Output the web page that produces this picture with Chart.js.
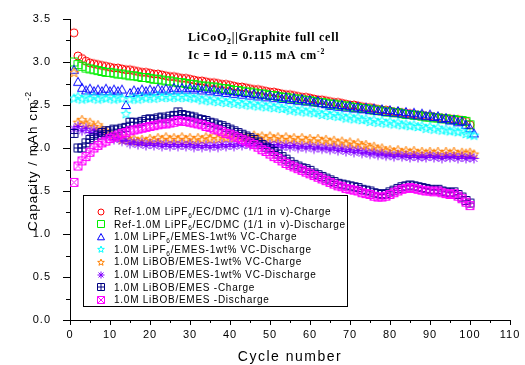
<!DOCTYPE html>
<html>
<head>
<meta charset="utf-8">
<script src="https://cdn.jsdelivr.net/npm/chart.js@4"></script>
<style>
  body { margin: 0; background: #fff; }
  canvas { display: block; }
</style>
</head>
<body>
<canvas id="chart" width="525" height="365"></canvas>
<script>
const cycles = [1,2,3,4,5,6,7,8,9,10,11,12,13,14,15,16,17,18,19,20,21,22,23,24,25,26,27,28,29,30,
  31,32,33,34,35,36,37,38,39,40,41,42,43,44,45,46,47,48,49,50,51,52,53,54,55,56,57,58,59,60,
  61,62,63,64,65,66,67,68,69,70,71,72,73,74,75,76,77,78,79,80,81,82,83,84,85,86,87,88,89,90,
  91,92,93,94,95,96,97,98,99,100,101];

const refCharge = [3.34,3.07,3.04,3.01,2.99,2.98,2.97,2.96,2.95,2.94,
  2.93,2.93,2.92,2.91,2.91,2.90,2.89,2.88,2.88,2.87,
  2.86,2.86,2.85,2.84,2.83,2.83,2.82,2.81,2.81,2.80,
  2.79,2.78,2.78,2.77,2.76,2.76,2.75,2.74,2.74,2.73,
  2.72,2.71,2.71,2.70,2.69,2.68,2.68,2.67,2.66,2.65,
  2.65,2.64,2.63,2.62,2.62,2.61,2.60,2.59,2.59,2.58,
  2.57,2.56,2.56,2.55,2.54,2.53,2.53,2.52,2.51,2.50,
  2.50,2.49,2.48,2.47,2.47,2.46,2.45,2.44,2.44,2.43,
  2.42,2.42,2.41,2.40,2.40,2.39,2.38,2.38,2.37,2.37,
  2.36,2.35,2.35,2.34,2.34,2.33,2.33,2.32,2.31,2.27];

const refDischarge = [3.00,2.97,2.95,2.93,2.92,2.91,2.90,2.89,2.88,2.88,
  2.87,2.86,2.86,2.85,2.84,2.84,2.83,2.82,2.82,2.81,
  2.80,2.80,2.79,2.78,2.78,2.77,2.76,2.76,2.75,2.74,
  2.74,2.73,2.72,2.72,2.71,2.71,2.70,2.69,2.69,2.68,
  2.67,2.67,2.66,2.65,2.65,2.64,2.63,2.63,2.62,2.61,
  2.61,2.60,2.59,2.59,2.58,2.57,2.57,2.56,2.55,2.55,
  2.54,2.53,2.53,2.52,2.51,2.51,2.50,2.49,2.49,2.48,
  2.47,2.47,2.46,2.46,2.45,2.44,2.44,2.43,2.42,2.42,
  2.41,2.41,2.40,2.39,2.39,2.38,2.38,2.37,2.36,2.36,
  2.35,2.35,2.34,2.34,2.33,2.33,2.32,2.32,2.31,2.27];

const vcCharge = [2.91,2.77,2.70,2.67,2.69,2.66,2.68,2.66,2.69,2.66,
  2.68,2.66,2.68,2.50,2.64,2.67,2.65,2.68,2.66,2.68,
  2.66,2.69,2.67,2.69,2.67,2.70,2.68,2.70,2.68,2.70,
  2.68,2.70,2.67,2.69,2.66,2.68,2.65,2.67,2.64,2.66,
  2.63,2.65,2.62,2.64,2.61,2.63,2.60,2.62,2.59,2.61,
  2.58,2.60,2.57,2.59,2.56,2.58,2.55,2.57,2.54,2.56,
  2.53,2.55,2.52,2.51,2.49,2.51,2.48,2.50,2.47,2.49,
  2.46,2.48,2.45,2.47,2.44,2.46,2.43,2.45,2.42,2.44,
  2.41,2.43,2.40,2.42,2.39,2.41,2.38,2.40,2.37,2.39,
  2.36,2.37,2.34,2.35,2.32,2.33,2.30,2.31,2.27,2.23,2.17];

const vcDischarge = [2.58,2.60,2.57,2.59,2.58,2.60,2.57,2.59,2.58,2.60,
  2.57,2.59,2.58,2.40,2.57,2.59,2.57,2.60,2.58,2.60,
  2.58,2.61,2.59,2.61,2.59,2.61,2.59,2.61,2.59,2.60,
  2.58,2.59,2.56,2.58,2.55,2.57,2.54,2.56,2.53,2.55,
  2.52,2.54,2.51,2.53,2.50,2.52,2.49,2.51,2.48,2.50,
  2.47,2.49,2.46,2.47,2.44,2.46,2.43,2.45,2.42,2.44,
  2.41,2.42,2.39,2.41,2.38,2.40,2.37,2.38,2.35,2.37,
  2.34,2.36,2.33,2.34,2.31,2.33,2.30,2.32,2.29,2.31,
  2.28,2.30,2.27,2.28,2.26,2.27,2.25,2.26,2.23,2.25,
  2.22,2.24,2.21,2.22,2.20,2.21,2.19,2.20,2.17,2.16,2.15];

const bobVcCharge = [2.88,2.30,2.33,2.28,2.30,2.25,2.27,2.22,2.20,2.17,
  2.15,2.13,2.10,2.12,2.09,2.11,2.08,2.10,2.08,2.11,
  2.09,2.12,2.10,2.13,2.10,2.12,2.10,2.13,2.10,2.12,
  2.09,2.12,2.10,2.13,2.11,2.14,2.11,2.14,2.12,2.15,
  2.12,2.15,2.12,2.14,2.12,2.15,2.12,2.14,2.11,2.14,
  2.11,2.13,2.10,2.13,2.10,2.12,2.09,2.12,2.09,2.11,
  2.08,2.11,2.08,2.10,2.07,2.09,2.06,2.08,2.05,2.07,
  2.04,2.06,2.03,2.04,2.01,2.02,1.99,2.00,1.97,1.98,
  1.96,1.98,1.95,1.97,1.95,1.97,1.94,1.96,1.94,1.96,
  1.94,1.96,1.93,1.96,1.94,1.96,1.93,1.95,1.94,1.95,1.93];

const bobVcDischarge = [2.22,2.25,2.20,2.23,2.18,2.21,2.16,2.18,2.13,2.15,
  2.10,2.12,2.08,2.09,2.05,2.07,2.04,2.06,2.03,2.05,
  2.03,2.05,2.02,2.04,2.02,2.04,2.02,2.04,2.02,2.04,
  2.01,2.03,2.01,2.03,2.01,2.03,2.01,2.04,2.02,2.04,
  2.02,2.05,2.03,2.05,2.03,2.05,2.03,2.05,2.02,2.04,
  2.02,2.04,2.01,2.03,2.01,2.03,2.00,2.02,2.00,2.02,
  1.99,2.01,1.99,2.00,1.98,2.00,1.97,1.99,1.96,1.98,
  1.95,1.97,1.94,1.95,1.93,1.94,1.92,1.93,1.91,1.92,
  1.90,1.92,1.90,1.91,1.89,1.91,1.89,1.90,1.89,1.91,
  1.89,1.90,1.88,1.90,1.89,1.90,1.88,1.90,1.88,1.89,1.88];

const bobCharge = [2.17,2.00,2.00,2.06,2.10,2.12,2.15,2.18,2.20,2.20,
  2.22,2.21,2.23,2.24,2.30,2.30,2.29,2.31,2.33,2.34,
  2.33,2.35,2.36,2.34,2.37,2.38,2.42,2.39,2.38,2.37,
  2.36,2.34,2.33,2.32,2.30,2.29,2.27,2.26,2.24,2.22,
  2.20,2.18,2.16,2.14,2.12,2.10,2.07,2.04,2.01,1.99,
  1.96,1.93,1.90,1.87,1.84,1.81,1.79,1.77,1.76,1.74,
  1.71,1.69,1.67,1.65,1.63,1.61,1.59,1.58,1.57,1.56,
  1.55,1.54,1.52,1.51,1.50,1.48,1.47,1.46,1.47,1.49,
  1.51,1.53,1.55,1.56,1.57,1.56,1.55,1.54,1.53,1.52,
  1.51,1.52,1.50,1.49,1.48,1.49,1.46,1.43,1.39,1.36];

const bobDischarge = [1.60,1.79,1.85,1.90,1.95,2.00,2.03,2.06,2.08,2.11,
  2.13,2.15,2.17,2.18,2.20,2.21,2.22,2.23,2.24,2.25,
  2.26,2.27,2.28,2.28,2.29,2.30,2.32,2.31,2.31,2.30,
  2.29,2.28,2.27,2.25,2.24,2.22,2.21,2.19,2.17,2.16,
  2.14,2.12,2.10,2.08,2.06,2.04,2.01,1.98,1.96,1.93,
  1.90,1.88,1.85,1.82,1.80,1.78,1.76,1.74,1.72,1.70,
  1.68,1.66,1.64,1.62,1.60,1.58,1.56,1.55,1.53,1.52,
  1.51,1.50,1.48,1.47,1.46,1.44,1.43,1.43,1.44,1.46,
  1.48,1.50,1.52,1.53,1.54,1.53,1.52,1.51,1.50,1.50,
  1.49,1.50,1.48,1.47,1.46,1.47,1.44,1.41,1.37,1.33];

const seriesLabels = [
  'Ref-1.0M LiPF_{6}/EC/DMC (1/1 in v)-Charge',
  'Ref-1.0M LiPF_{6}/EC/DMC (1/1 in v)-Discharge',
  '1.0M LiPF_{6}/EMES-1wt% VC-Charge',
  '1.0M LiPF_{6}/EMES-1wt% VC-Discharge',
  '1.0M LiBOB/EMES-1wt% VC-Charge',
  '1.0M LiBOB/EMES-1wt% VC-Discharge',
  '1.0M LiBOB/EMES -Charge',
  '1.0M LiBOB/EMES -Discharge'
];
const seriesValues = [refCharge, refDischarge, vcCharge, vcDischarge, bobVcCharge, bobVcDischarge, bobCharge, bobDischarge];
const seriesColors = ['#ff0000', '#00ee00', '#0000ff', '#00ffff', '#ff8000', '#8000ff', '#000080', '#ff00ff'];
const seriesShapes = ['circle', 'square', 'triangle', 'star', 'star', 'asterisk', 'boxPlus', 'boxX'];
const markerSizes = [9, 8, 9, 10, 10, 10, 8, 8];

// hollow marker drawn once into a small canvas, used as pointStyle
function makeMarker(shape, color, size) {
    const n = size + 3;
    const c = document.createElement('canvas');
    c.width = n;
    c.height = n;
    const g = c.getContext('2d');
    g.strokeStyle = color;
    g.lineWidth = 1;
    const m = n / 2, r = size / 2;
    const lo = 1.5, hi = n - 1.5;
    g.beginPath();
    if (shape === 'circle') {
        g.arc(m, m, r - 0.5, 0, Math.PI * 2);
    } else if (shape === 'square') {
        g.rect(lo, lo, hi - lo, hi - lo);
    } else if (shape === 'triangle') {
        g.moveTo(m, m - r);
        g.lineTo(m + r, m + r * 0.8);
        g.lineTo(m - r, m + r * 0.8);
        g.closePath();
    } else if (shape === 'star') {
        for (let k = 0; k < 10; k++) {
            const a = -Math.PI / 2 + k * Math.PI / 5;
            const rr = k % 2 ? r * 0.42 : r;
            const px = m + rr * Math.cos(a), py = m + 0.5 + rr * Math.sin(a);
            k ? g.lineTo(px, py) : g.moveTo(px, py);
        }
        g.closePath();
    } else if (shape === 'asterisk') {
        for (let k = 0; k < 4; k++) {
            const a = k * Math.PI / 4;
            g.moveTo(m - r * Math.cos(a), m - r * Math.sin(a));
            g.lineTo(m + r * Math.cos(a), m + r * Math.sin(a));
        }
    } else if (shape === 'boxPlus') {
        g.rect(lo, lo, hi - lo, hi - lo);
        g.moveTo(m, lo); g.lineTo(m, hi);
        g.moveTo(lo, m); g.lineTo(hi, m);
    } else if (shape === 'boxX') {
        g.rect(lo, lo, hi - lo, hi - lo);
        g.moveTo(lo, lo); g.lineTo(hi, hi);
        g.moveTo(hi, lo); g.lineTo(lo, hi);
    }
    g.stroke();
    return c;
}

// text with _{sub} and ^{sup} parts
function drawRich(ctx, text, x, y, size, family, weight, measureOnly) {
    const re = /([_^])\{([^}]*)\}/g;
    const parts = [];
    let last = 0, mt;
    while ((mt = re.exec(text))) {
        if (mt.index > last) parts.push([text.slice(last, mt.index), 0]);
        parts.push([mt[2], mt[1] === '_' ? 1 : -1]);
        last = re.lastIndex;
    }
    if (last < text.length) parts.push([text.slice(last), 0]);
    let cx = x;
    parts.forEach(([t, k]) => {
        const s = k ? size * 0.65 : size;
        ctx.font = weight + ' ' + s + 'px ' + family;
        const dy = k === 1 ? size * 0.28 : (k === -1 ? -size * 0.42 : 0);
        if (!measureOnly) ctx.fillText(t, cx, y + dy);
        cx += ctx.measureText(t).width;
    });
    return cx - x;
}

const markers = seriesShapes.map((s, i) => makeMarker(s, seriesColors[i], markerSizes[i]));
const legendMarkers = seriesShapes.map((s, i) => makeMarker(s, seriesColors[i], 7));

const datasets = seriesValues.map((vals, i) => ({
    label: seriesLabels[i],
    data: vals.map((v, j) => ({ x: cycles[j], y: v })),
    pointStyle: markers[i],
    pointRadius: 4,
    showLine: false,
    order: 10 - i
}));

const sansFont = '"Liberation Sans", Arial, sans-serif';
const serifFont = '"Liberation Serif", "Times New Roman", serif';

const decorPlugin = {
    id: 'decor',
    beforeDraw(chart) {
        chart.ctx.letterSpacing = '1px';
    },
    afterDraw(chart) {
        const ctx = chart.ctx;
        const xs = chart.scales.x, ys = chart.scales.y;
        const area = chart.chartArea;
        ctx.save();
        ctx.strokeStyle = '#000';
        ctx.lineWidth = 1;
        // minor ticks
        ctx.beginPath();
        for (let v = 5; v < 110; v += 10) {
            const px = Math.round(xs.getPixelForValue(v)) + 0.5;
            ctx.moveTo(px, area.bottom);
            ctx.lineTo(px, area.bottom + 3);
        }
        for (let v = 0.25; v < 3.5; v += 0.5) {
            const py = Math.round(ys.getPixelForValue(v)) + 0.5;
            ctx.moveTo(area.left - 4, py);
            ctx.lineTo(area.left, py);
        }
        ctx.stroke();

        ctx.fillStyle = '#000';
        ctx.textBaseline = 'alphabetic';
        ctx.textAlign = 'left';

        // x axis title
        ctx.letterSpacing = '1.5px';
        ctx.font = '14px ' + sansFont;
        const xt = 'Cycle number';
        ctx.fillText(xt, (area.left + area.right) / 2 - ctx.measureText(xt).width / 2, 361);

        // y axis title
        ctx.letterSpacing = '1px';
        ctx.save();
        ctx.translate(37, 231);
        ctx.rotate(-Math.PI / 2);
        drawRich(ctx, 'Capacity / mAh cm^{-2}', 0, 0, 13.5, sansFont, 'normal');
        ctx.restore();

        // annotation
        ctx.letterSpacing = '0.75px';
        drawRich(ctx, 'LiCoO_{2}||Graphite full cell', 188, 41, 12, serifFont, 'bold');
        drawRich(ctx, 'Ic = Id = 0.115 mA cm^{-2}', 188, 59, 12, serifFont, 'bold');

        // legend box
        const bx = 83, by = 195, bw = 264, bh = 111;
        ctx.fillStyle = '#fff';
        ctx.fillRect(bx, by, bw, bh);
        ctx.strokeRect(bx + 0.5, by + 0.5, bw, bh);
        ctx.fillStyle = '#000';
        ctx.letterSpacing = '0.75px';
        chart.data.datasets.forEach((ds, i) => {
            const ry = 211.5 + i * 12.6;
            const mk = legendMarkers[i];
            ctx.drawImage(mk, Math.round(101 - mk.width / 2), Math.round(ry - mk.height / 2));
            drawRich(ctx, ds.label, 114, ry + 3.5, 10, sansFont, 'normal');
        });
        ctx.restore();
    }
};

new Chart(document.getElementById('chart'), {
    type: 'scatter',
    data: { datasets },
    options: {
        responsive: false,
        animation: false,
        layout: { padding: { left: 0, right: 15, top: 19, bottom: 0 } },
        plugins: {
            legend: { display: false },
            tooltip: { enabled: false }
        },
        scales: {
            x: {
                type: 'linear',
                min: 0,
                max: 110,
                ticks: {
                    stepSize: 10,
                    color: '#000',
                    padding: 3,
                    maxRotation: 0,
                    font: { family: sansFont, size: 11 }
                },
                grid: { drawOnChartArea: false, tickLength: 5, color: '#000' },
                border: { color: '#000', width: 1 },
                afterFit: s => { s.height = 45; }
            },
            y: {
                min: 0,
                max: 3.5,
                ticks: {
                    stepSize: 0.5,
                    color: '#000',
                    padding: 12,
                    callback: v => v.toFixed(1),
                    font: { family: sansFont, size: 11 }
                },
                grid: { drawOnChartArea: false, tickLength: 7, color: '#000' },
                border: { color: '#000', width: 1 },
                afterFit: s => { s.width = 70; }
            }
        }
    },
    plugins: [decorPlugin]
});
</script>
</body>
</html>
